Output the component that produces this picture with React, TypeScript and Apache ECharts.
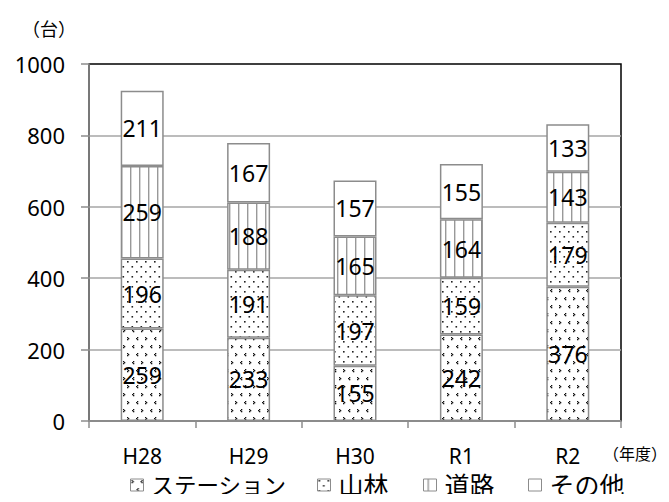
import React, { useEffect, useRef } from "react";
import * as echarts from "echarts";

const categories = ["H28", "H29", "H30", "R1", "R2"];
const stationValues = [259, 233, 155, 242, 376];
const forestValues = [196, 191, 197, 159, 179];
const roadValues = [259, 188, 165, 164, 143];
const otherValues = [211, 167, 157, 155, 133];
const seriesNames = ["ステーション", "山林", "道路", "その他"];
const yMin = 0;
const yMax = 1000;
const yInterval = 200;

const FONT = '"Noto Sans", "Noto Sans CJK JP", sans-serif';

function makeTile(w: number, h: number, draw: (ctx: CanvasRenderingContext2D) => void) {
  const c = document.createElement("canvas");
  c.width = w;
  c.height = h;
  const ctx = c.getContext("2d")!;
  ctx.fillStyle = "#ffffff";
  ctx.fillRect(0, 0, w, h);
  draw(ctx);
  return c;
}

export default function App() {
  const ref = useRef<HTMLDivElement>(null);
  useEffect(() => {
    if (!ref.current) return;
    const chart = echarts.init(ref.current, undefined, { renderer: "svg" });

    const stationTile = makeTile(18, 16, (ctx) => {
      ctx.fillStyle = "#111";
      const px = (x: number, y: number) => ctx.fillRect(x, y, 1.3, 1.3);
      px(1, 1); px(2, 2); px(1, 3);
      px(11, 1); px(10, 2); px(11, 3);
      px(7, 9); px(6, 10); px(7, 11);
      px(15, 9); px(16, 10); px(15, 11);
    });
    const forestTile = makeTile(9, 10, (ctx) => {
      ctx.fillStyle = "#222";
      ctx.fillRect(1, 1, 1.6, 1.6);
      ctx.fillRect(5.5, 6, 1.6, 1.6);
    });
    const roadTile = makeTile(9, 4, (ctx) => {
      ctx.fillStyle = "#999";
      ctx.fillRect(4, 0, 1.4, 4);
    });

    const fills = [
      { image: stationTile, repeat: "repeat" },
      { image: forestTile, repeat: "repeat" },
      { image: roadTile, repeat: "repeat" },
      "#ffffff",
    ];
    const values = [stationValues, forestValues, roadValues, otherValues];

    const series = seriesNames.map((name, i) => ({
      name,
      type: "bar",
      stack: "total",
      barWidth: 43,
      data: values[i],
      itemStyle: {
        color: fills[i] as any,
        borderColor: "#8c8c8c",
        borderWidth: 1.5,
      },
      label: {
        show: true,
        position: "inside",
        color: "#000",
        fontSize: 23,
        fontFamily: FONT,
      },
    }));

    const legendLefts = [130, 317, 423, 528];
    const legendFontSizes = [22.5, 25, 25, 25];
    const legends = seriesNames.map((name, i) => ({
      data: [name],
      left: legendLefts[i],
      top: 472,
      padding: 0,
      itemWidth: 13,
      itemHeight: 12,
      icon: "rect",
      selectedMode: false,
      itemStyle: { borderColor: "#8c8c8c", borderWidth: 1 },
      textStyle: {
        fontSize: legendFontSizes[i],
        lineHeight: 26,
        fontFamily: FONT,
        color: "#000",
        padding: [0, 0, 0, 3],
      },
    }));

    chart.setOption({
      animation: false,
      grid: {
        left: 89,
        right: 48,
        top: 64,
        bottom: 81,
        show: true,
        borderColor: "#000",
        borderWidth: 1.5,
        backgroundColor: "transparent",
      },
      legend: legends,
      xAxis: {
        type: "category",
        data: categories,
        boundaryGap: true,
        axisLine: { lineStyle: { color: "#8c8c8c", width: 1.5 } },
        axisTick: { show: true, length: 7, alignWithLabel: false, lineStyle: { color: "#8c8c8c", width: 1.5 } },
        axisLabel: { color: "#000", fontSize: 21, fontFamily: FONT, margin: 24 },
      },
      yAxis: {
        type: "value",
        min: yMin,
        max: yMax,
        interval: yInterval,
        axisLine: { show: true, lineStyle: { color: "#8c8c8c", width: 1.5 } },
        axisTick: { show: true, length: 8, lineStyle: { color: "#8c8c8c", width: 1.5 } },
        splitLine: { show: true, showMaxLine: false, lineStyle: { color: "#a6a6a6", width: 1.5 } },
        axisLabel: {
          color: "#000",
          fontSize: 22,
          fontFamily: FONT,
          margin: 24,
          formatter: (v: number) => String(v),
        },
      },
      graphic: [
        {
          type: "text",
          left: 22,
          top: 20,
          style: { text: "（台）", fontSize: 18, fontFamily: FONT, fill: "#000" },
        },
        {
          type: "text",
          left: 603,
          top: 446,
          style: { text: "（年度）", fontSize: 16, fontFamily: FONT, fill: "#000" },
        },
      ],
      series,
    });
    return () => chart.dispose();
  }, []);
  return <div ref={ref} style={{ width: 669, height: 502, margin: -8 }} />;
}
